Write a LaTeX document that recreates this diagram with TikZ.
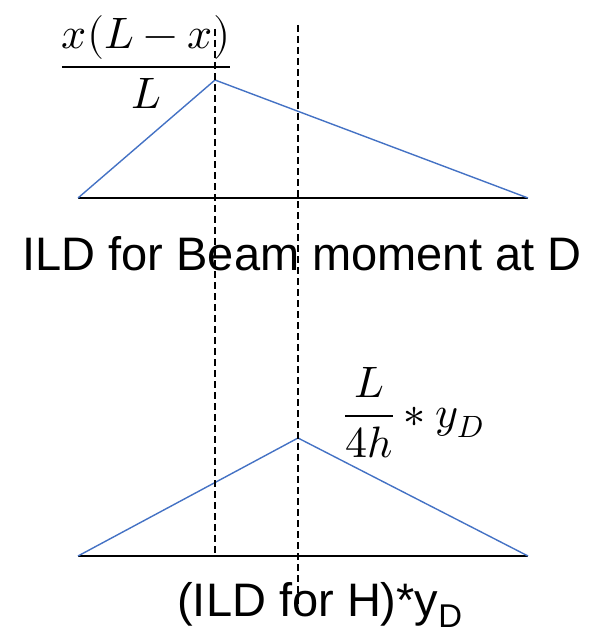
\documentclass[tikz,border=0pt]{standalone}
\usepackage{amsmath}
\usepackage{unicode-math}
\setmainfont{Liberation Sans}
\setmathfont{Latin Modern Math}
\usepackage{xcolor}
\usetikzlibrary{positioning,calc}
\definecolor{ildblue}{RGB}{68,114,196}
\begin{document}
\begin{tikzpicture}[x=1pt, y=-1pt, font=\fontsize{47}{56}\selectfont, axis/.style={draw, line width=1.6pt}, ild/.style={draw=ildblue, line width=1.4pt, line join=miter}, guide/.style={draw, dashed, line width=1.3pt, dash pattern=on 7pt off 4pt}, lbl/.style={inner sep=0pt, anchor=base}, mth/.style={inner sep=0pt, font=\fontsize{44}{52}\selectfont}]
\useasboundingbox (0,0) rectangle (607,634);
% ILD for beam moment
\coordinate (a1) at (78,198);
\coordinate (b1) at (528,198);
\coordinate (p1) at (215,80);
\draw[axis] (a1) -- (b1);
\draw[ild] (a1) -- (p1) -- (b1);
\node[mth, anchor=base] (mval) at (146,78) {$\dfrac{x(L-x)}{L}$};
\node[lbl] (top) at (302,270) {ILD for Beam moment at D};
% ILD for H times y_D
\coordinate (a2) at (78,556);
\coordinate (b2) at (528,556);
\coordinate (p2) at (298,438);
\draw[axis] (a2) -- (b2);
\draw[ild] (a2) -- (p2) -- (b2);
\node[mth, anchor=base west] (hval) at (344,427) {$\dfrac{L}{4h}\ast y_D$};
\node[lbl] (bot) at (320,616) {(ILD for H)*y\textsubscript{D}};
% guide lines
\coordinate (d1t) at (215,29);
\coordinate (d1b) at (215,556);
\coordinate (d2t) at (298,25);
\coordinate (d2b) at (298,610);
\draw[guide] (d1t) -- (d1b);
\draw[guide] (d2t) -- (d2b);
\end{tikzpicture}
\end{document}
